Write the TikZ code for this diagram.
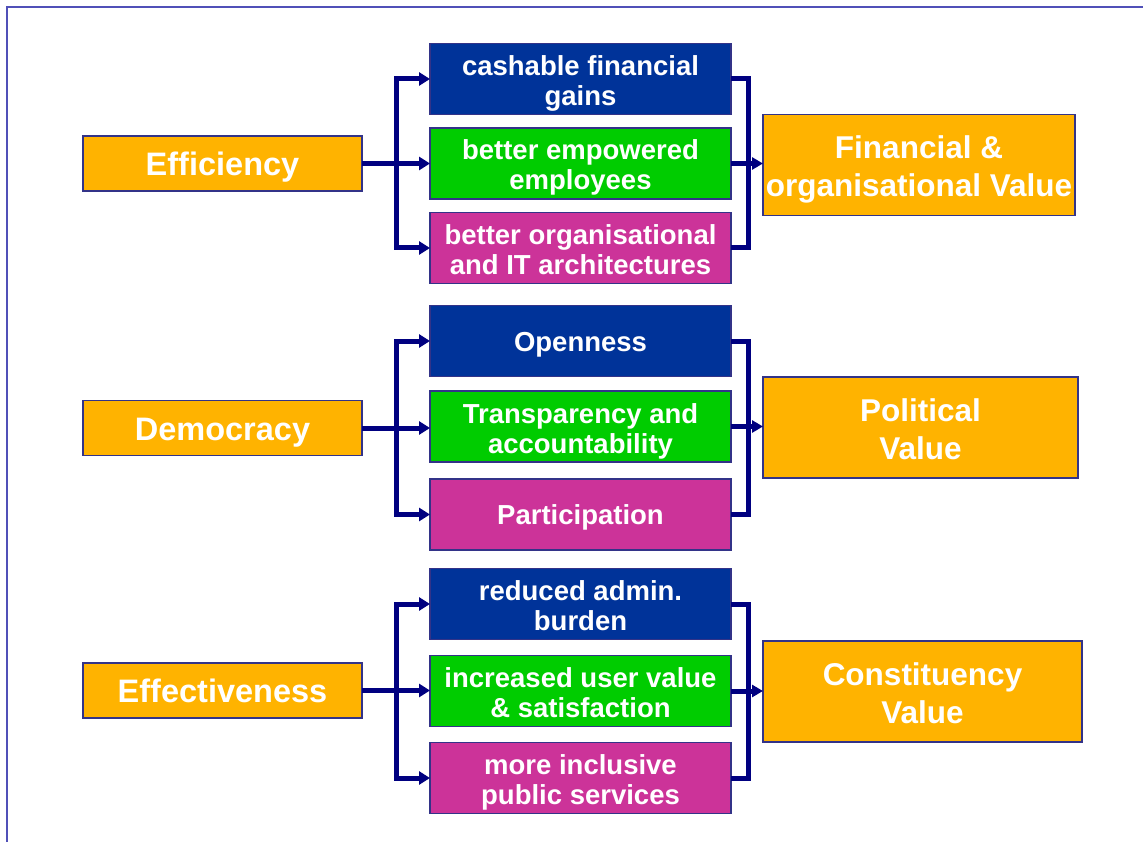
\documentclass[tikz,border=0pt]{standalone}
\usepackage{fontspec}
\setmainfont{Liberation Sans}
\usetikzlibrary{arrows.meta}
\definecolor{orng}{HTML}{FFB300}
\definecolor{bluebox}{HTML}{003399}
\definecolor{greenbox}{HTML}{00CC00}
\definecolor{magbox}{HTML}{CC3399}
\definecolor{bordc}{HTML}{333388}
\definecolor{navyc}{HTML}{000080}
\definecolor{framec}{HTML}{5050B8}
\begin{document}
\begin{tikzpicture}[x=1pt,y=-1pt,
 box/.style={draw=bordc, line width=1.2pt, text=white, align=center, inner sep=0pt, outer sep=0pt, text depth=0pt},
 lbox/.style={box, fill=orng, minimum width=279pt, minimum height=55pt, text height=24.5pt, font=\bfseries\fontsize{32.5}{38}\selectfont},
 mbox/.style={box, minimum width=301pt, minimum height=71pt, text height=53pt, font=\bfseries\fontsize{27.5}{30}\selectfont},
 oneline/.style={text height=20pt},
 bbox/.style={mbox, fill=bluebox},
 gbox/.style={mbox, fill=greenbox},
 pbox/.style={mbox, fill=magbox},
 rbox/.style={box, fill=orng, minimum height=101pt, text height=63pt, font=\bfseries\fontsize{31.5}{38}\selectfont},
 conn/.style={draw=navyc, line width=5pt, line join=miter},
 arr/.style={conn, -{Triangle[length=11pt,width=13pt]}},
 rarr/.style={conn, -{Triangle[length=11pt,width=12pt]}},
 frame/.style={draw=framec, line width=1.5pt}
]
\useasboundingbox (0,0) rectangle (1143,842);
\fill[white] (0,0) rectangle (1143,842);
\draw[frame] (7,842) -- (7,7) -- (1143,7);

\coordinate (t1) at (396,0);
\coordinate (t2) at (748,0);

% Block 1
\node[lbox] (eff) at (222.5,163.5) {Efficiency};
\node[bbox] (e1) at (580.5,79) {cashable financial\\gains};
\node[gbox] (e2) at (580.5,163.5) {better empowered\\employees};
\node[pbox] (e3) at (580.5,248) {better organisational\\and IT architectures};
\node[rbox, minimum width=312pt] (fin) at (919,165) {Financial \&\\organisational Value};

% Block 2
\node[lbox] (dem) at (222.5,428) {Democracy};
\node[bbox, oneline] (d1) at (580.5,341) {Openness};
\node[gbox] (d2) at (580.5,426.5) {Transparency and\\accountability};
\node[pbox, oneline] (d3) at (580.5,514.5) {Participation};
\node[rbox, minimum width=315pt] (pol) at (920.5,427.5) {Political\\Value};

% Block 3
\node[lbox] (efc) at (222.5,690.5) {Effectiveness};
\node[bbox] (f1) at (580.5,604) {reduced admin.\\burden};
\node[gbox] (f2) at (580.5,691) {increased user value\\\& satisfaction};
\node[pbox] (f3) at (580.5,778) {more inclusive\\public services};
\node[rbox, minimum width=319pt] (con) at (922.5,691.5) {Constituency\\Value};

% Connectors block 1
\draw[arr] (eff.east) -- (t1 |- eff.east) |- (e1.west);
\draw[arr] (eff.east) -- (t1 |- eff.east) |- (e3.west);
\draw[arr] (eff.east) -- (e2.west |- eff.east);
\draw[conn] (e1.east) -| (t2 |- e3.east) -- (e3.east);
\draw[rarr] (e2.east) -- (fin.west |- e2.east);

% Connectors block 2
\draw[arr] (dem.east) -- (t1 |- dem.east) |- (d1.west);
\draw[arr] (dem.east) -- (t1 |- dem.east) |- (d3.west);
\draw[arr] (dem.east) -- (d2.west |- dem.east);
\draw[conn] (d1.east) -| (t2 |- d3.east) -- (d3.east);
\draw[rarr] (d2.east) -- (pol.west |- d2.east);

% Connectors block 3
\draw[arr] (efc.east) -- (t1 |- efc.east) |- (f1.west);
\draw[arr] (efc.east) -- (t1 |- efc.east) |- (f3.west);
\draw[arr] (efc.east) -- (f2.west |- efc.east);
\draw[conn] (f1.east) -| (t2 |- f3.east) -- (f3.east);
\draw[rarr] (f2.east) -- (con.west |- f2.east);
\end{tikzpicture}
\end{document}
